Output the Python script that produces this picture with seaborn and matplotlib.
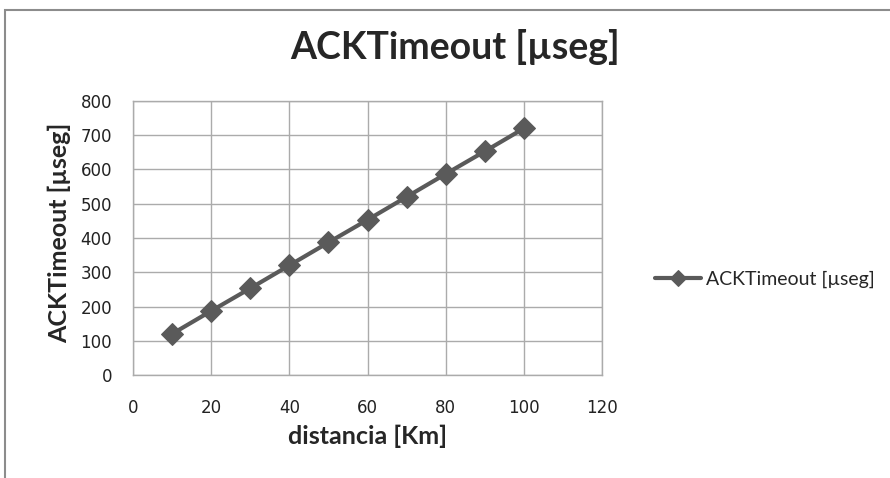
import matplotlib
matplotlib.use("Agg")
import matplotlib.pyplot as plt
from matplotlib.patches import Rectangle
import seaborn as sns
import pandas as pd

distancia_km = [10, 20, 30, 40, 50, 60, 70, 80, 90, 100]
ack_timeout_us = [120, 187, 253, 320, 387, 453, 520, 587, 653, 720]
series_name = "ACKTimeout [µseg]"
x_ticks = [0, 20, 40, 60, 80, 100, 120]
y_ticks = [0, 100, 200, 300, 400, 500, 600, 700, 800]

df = pd.DataFrame({"distancia": distancia_km, "ack": ack_timeout_us})

sns.set_style("white")
plt.rcParams["font.family"] = ["Lato", "DejaVu Sans"]

fig = plt.figure(figsize=(8.9, 4.78), dpi=100)
ax = fig.add_axes([133 / 890, 1 - 375 / 478, (602 - 133) / 890, (375 - 101) / 478])

line_color = "#5a5a5a"
sns.lineplot(data=df, x="distancia", y="ack", ax=ax, color=line_color,
             linewidth=3, marker="D", markersize=11, markeredgecolor=line_color,
             markerfacecolor=line_color, label=series_name)

ax.set_xlim(0, 120)
ax.set_ylim(0, 800)
ax.set_xticks(x_ticks)
ax.set_yticks(y_ticks)
ax.tick_params(axis="both", length=0, colors="#222222")
ax.tick_params(axis="x", pad=17)
ax.tick_params(axis="y", pad=15)
for lbl in ax.get_xticklabels() + ax.get_yticklabels():
    lbl.set_fontfamily("DejaVu Sans")
    lbl.set_fontsize(12)
ax.grid(True, color="#ababab", linewidth=1.0)
for s in ax.spines.values():
    s.set_color("#ababab")
    s.set_linewidth(1.0)

ax.set_xlabel("distancia [Km]", fontsize=18, fontweight="bold", labelpad=6)
ax.set_ylabel(series_name, fontsize=18, fontweight="bold")
ax.yaxis.set_label_coords(-0.131, 0.52)

fig.text(455 / 890, 1 - 47 / 478, series_name, ha="center", va="center",
         fontsize=27, fontweight="bold")

leg = ax.legend(loc="center left", bbox_to_anchor=(1.075, 0.35), frameon=False,
                fontsize=14, handlelength=2.4, handletextpad=0.25)
for h in leg.legend_handles:
    h.set_markersize(8)

# outer chart frame
fig.patches.append(Rectangle((5 / 890, -0.1), 1.2, 1 - 10 / 478 + 0.1,
                             transform=fig.transFigure, fill=False,
                             edgecolor="#8c8c8c", linewidth=1.5))

fig.savefig("out.png", dpi=100)
